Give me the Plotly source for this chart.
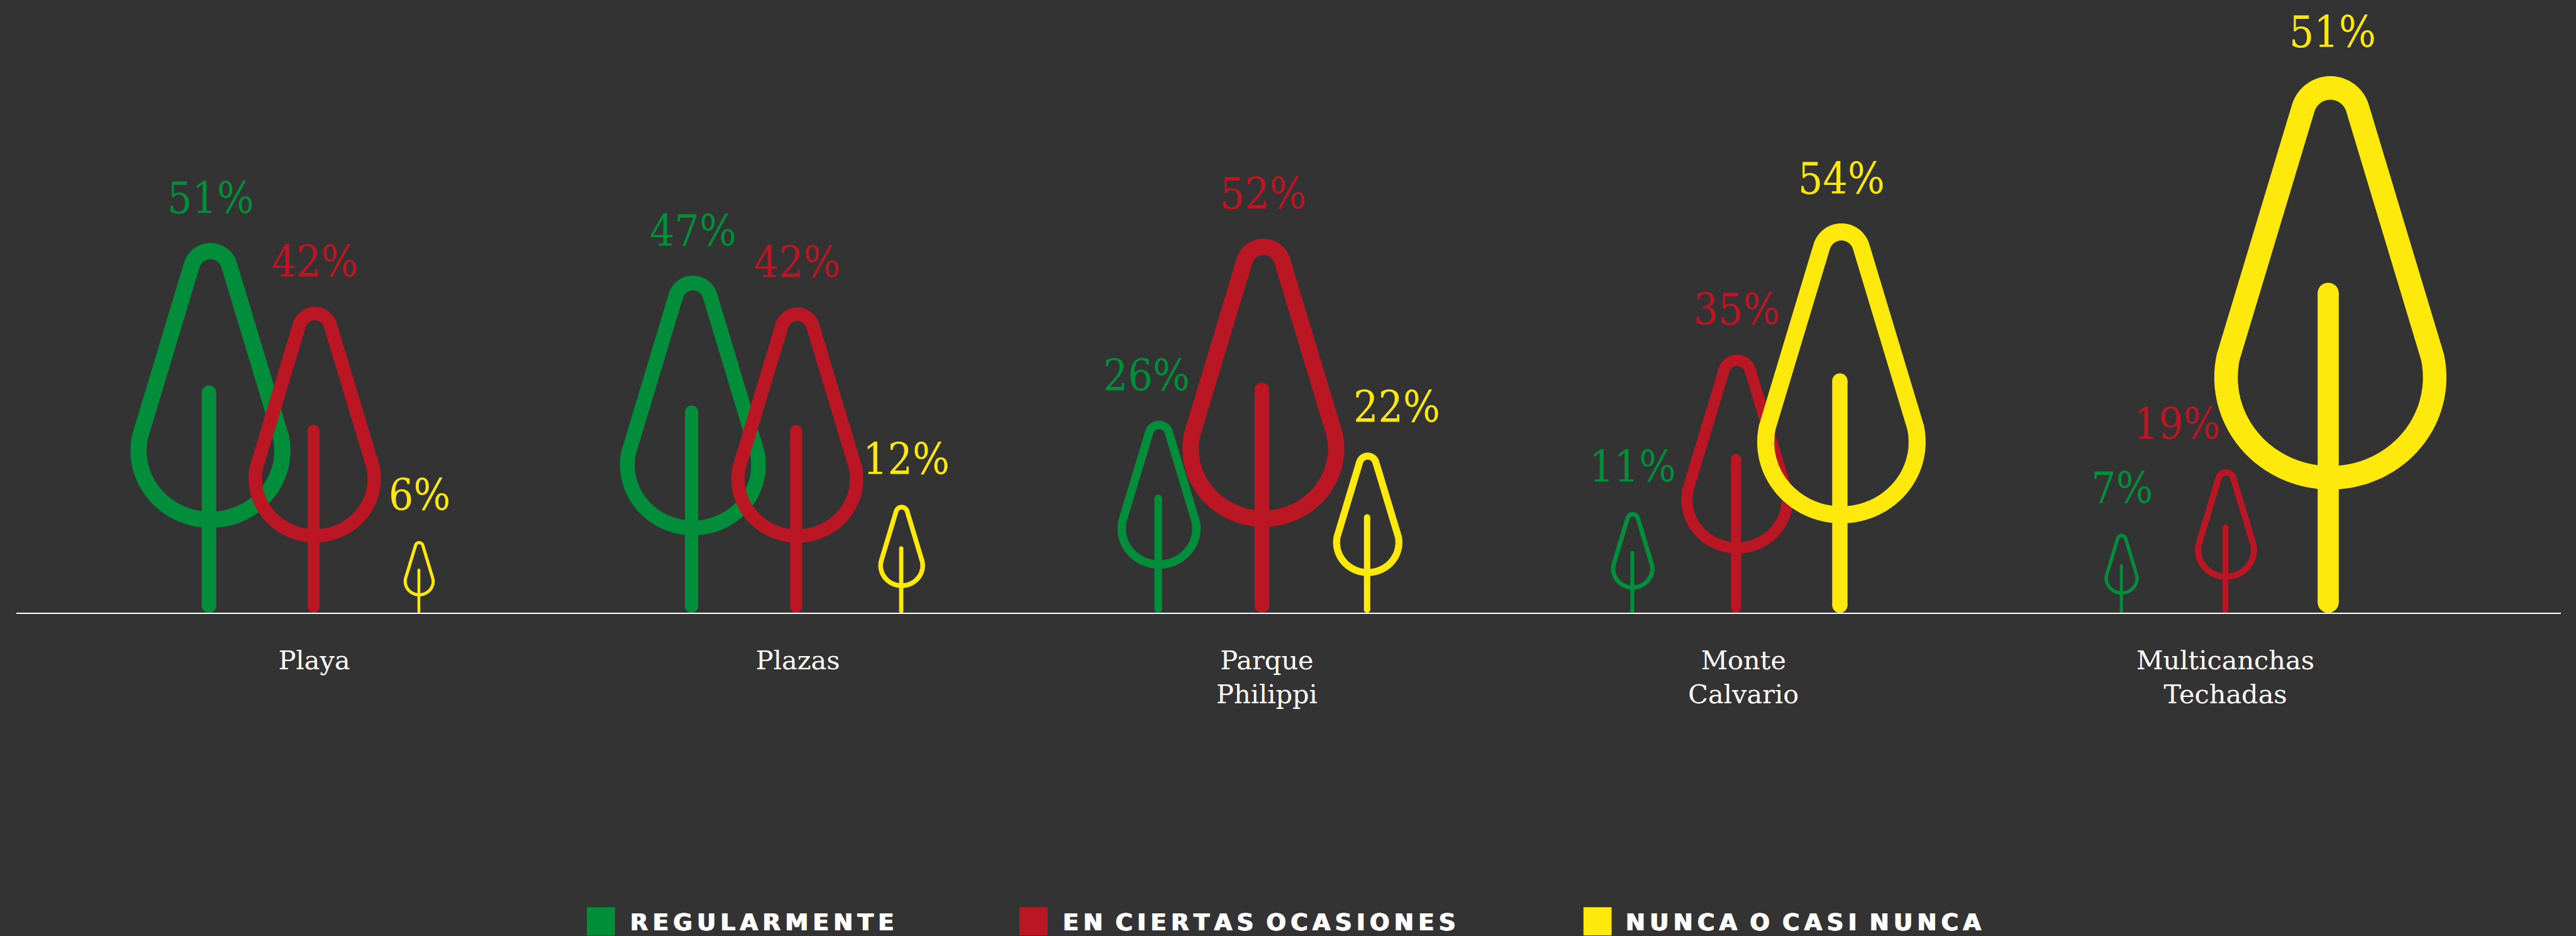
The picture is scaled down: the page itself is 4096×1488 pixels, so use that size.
import numpy as np
import plotly.graph_objects as go

# ---------- data ----------
categories = ["Playa", "Plazas", "Parque<br>Philippi", "Monte<br>Calvario", "Multicanchas<br>Techadas"]
series = ["REGULARMENTE", "EN CIERTAS OCASIONES", "NUNCA O CASI NUNCA"]
regularmente = [51, 47, 26, 11, 7]
ciertas_ocasiones = [42, 42, 52, 35, 19]
nunca = [6, 12, 22, 54, 51]
# drawn tree heights (same scale as the percentages; not always proportional)
alto_regularmente = [51.0, 46.5, 26.5, 13.9, 10.9]
alto_ciertas = [42.2, 42.1, 51.6, 35.6, 19.8]
alto_nunca = [9.9, 14.9, 22.1, 53.7, 74.0]

# ---------- layout constants (reference pixels) ----------
REF_W, REF_H, S = 4394, 1596, 0.932
BASE = 1045
PX_PER_UNIT = 12.33
X0, X1 = 28, 4368
group_x = [537, 1360, 2155, 2963, 3797]
label_x = [536, 1361, 2161, 2974, 3796]
slot = [-178, 0, 178]
dx_lab = {(1, 2): 8, (2, 0): -21, (2, 2): 50, (4, 1): -83, (4, 2): 4}
colors = ["#028D3A", "#BA1623", "#FDEA0C"]
BG = "#333333"
values = [regularmente, ciertas_ocasiones, nunca]
alturas = [alto_regularmente, alto_ciertas, alto_nunca]


def outline():
    a = np.radians(np.linspace(17, 163, 40))
    tx, ty = 0.053 * np.cos(a), 0.928 + 0.053 * np.sin(a)
    b0 = np.arcsin(0.038 / 0.1875)
    b = np.linspace(b0, -np.pi - b0, 160)
    ex, ey = 0.195 * np.cos(b), 0.44 + 0.1875 * np.sin(b)
    i = len(b) // 2
    lx = ex[i:]; ly = ey[i:]            # bottom -> left end
    rx = ex[:i]; ry = ey[:i]            # right end -> bottom
    return np.r_[lx, tx[::-1], rx], np.r_[ly, ty[::-1], ry]


def spaced(name):
    hair = "\u200a"
    words = [(hair * 2).join(w) for w in name.split(" ")]
    return (hair + " " + hair).join(words)


ox, oy = outline()
fig = go.Figure()
annos = []
for s, col in enumerate(colors):
    for c, cx0 in enumerate(group_x):
        h = alturas[s][c]
        hp = h * PX_PER_UNIT
        cx = cx0 + slot[s]
        t = 0.0395 * hp
        fig.add_trace(go.Scatter(x=cx + ox * hp, y=oy * h, mode="lines", cliponaxis=False,
                                 line=dict(color=col, width=0.044 * hp * S, simplify=False),
                                 showlegend=False, hoverinfo="skip"))
        sx = cx - 0.004 * hp
        fig.add_trace(go.Scatter(x=[sx, sx], y=[(t / 2) / PX_PER_UNIT, h * 0.617 - (t / 2) / PX_PER_UNIT],
                                 mode="lines+markers", cliponaxis=False,
                                 line=dict(color=col, width=t * S),
                                 marker=dict(color=col, size=t * S, line=dict(width=0)),
                                 showlegend=False, hoverinfo="skip"))
        annos.append(dict(x=cx, y=h, xref="x", yref="y", text=f"{values[s][c]}%", showarrow=False,
                          xanchor="center", yanchor="bottom", xshift=dx_lab.get((c, s), 0) * S, yshift=31,
                          font=dict(family="DejaVu Serif Condensed", size=74 * S, color=col)))

# legend
leg_sq = [1001, 1739, 2701]
leg_tx = [1073, 1811, 2771]
shapes = []
for sq, tx, name, col in zip(leg_sq, leg_tx, series, colors):
    shapes.append(dict(type="rect", xref="paper", yref="paper", x0=sq / REF_W, x1=(sq + 48) / REF_W,
                       y0=1 - 1595 / REF_H, y1=1 - 1547 / REF_H, fillcolor=col, line=dict(width=0)))
    annos.append(dict(x=tx / REF_W, y=1 - 1573 / REF_H, xref="paper", yref="paper", showarrow=False,
                      xanchor="left", yanchor="middle", text=spaced(name),
                      font=dict(family="DejaVu Sans", weight=700, size=37, color="#FFFFFF",
                                shadow="0.8px 0 0 #FFFFFF, -0.8px 0 0 #FFFFFF")))

fig.update_layout(
    width=4096, height=1488, paper_bgcolor=BG, plot_bgcolor=BG,
    margin=dict(l=0, r=0, t=0, b=0, pad=0), showlegend=False,
    annotations=annos, shapes=shapes,
    xaxis=dict(domain=[X0 / REF_W, X1 / REF_W], range=[X0, X1], showgrid=False, zeroline=False,
               showline=True, linecolor="#FFFFFF", linewidth=2,
               tickmode="array", tickvals=label_x, ticktext=categories,
               ticks="outside", ticklen=38, tickwidth=0, tickcolor=BG,
               tickfont=dict(family="DejaVu Serif", size=44.5 * S, color="#FFFFFF")),
    yaxis=dict(domain=[1 - BASE / REF_H, 1], range=[0, BASE / PX_PER_UNIT], visible=False),
)
fig.write_html("out.html", config=dict(displayModeBar=False),
               post_script="document.body.style.margin='0';document.body.style.background='#333333';document.body.style.overflow='hidden';")
